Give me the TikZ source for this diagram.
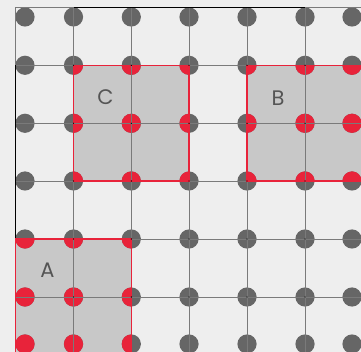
\documentclass[tikz,border=0pt]{standalone}
\usepackage{fontspec}
\setmainfont{Poppins}
\definecolor{bgc}{HTML}{EEEEEE}
\definecolor{sqfill}{HTML}{C8C8C8}
\definecolor{redc}{HTML}{E8233A}
\definecolor{dotc}{HTML}{666666}
\definecolor{gridc}{HTML}{7A7A7A}
\definecolor{labc}{HTML}{555555}
\tikzset{
  sq/.style={fill=sqfill},
  sqborder/.style={draw=redc, line width=1.4pt},
  gridline/.style={draw=gridc, line width=0.9pt},
  frameline/.style={draw=black, line width=1.1pt},
  lab/.style={text=labc, font=\fontsize{21}{24}\selectfont, inner sep=0pt},
}
\begin{document}
\begin{tikzpicture}[x=1pt,y=-1pt]
\fill[bgc] (0,0) rectangle (361,352);
\useasboundingbox (0,0) rectangle (361,352);
% square fills
\fill[sq] (73.5,65.3) rectangle (189,181);
\fill[sq] (247,65.3) rectangle (365,181);
\fill[sq] (15.7,239) rectangle (131.3,356);
% gray dots
\foreach \x in {25,73.5,131.3,189,247,305,352}
  \foreach \y in {17,65.3,123.3,181,239,297,344}
    \fill[dotc] (\x,\y) circle (9.6);
% red dots inside squares
\begin{scope}
  \clip (73.5,65.3) rectangle (189,181);
  \foreach \x in {25,73.5,131.3,189,247,305,352}
    \foreach \y in {17,65.3,123.3,181,239,297,344}
      \fill[redc] (\x,\y) circle (9.6);
\end{scope}
\begin{scope}
  \clip (247,65.3) rectangle (365,181);
  \foreach \x in {25,73.5,131.3,189,247,305,352}
    \foreach \y in {17,65.3,123.3,181,239,297,344}
      \fill[redc] (\x,\y) circle (9.6);
\end{scope}
\begin{scope}
  \clip (15.7,239) rectangle (131.3,356);
  \foreach \x in {25,73.5,131.3,189,247,305,352}
    \foreach \y in {17,65.3,123.3,181,239,297,344}
      \fill[redc] (\x,\y) circle (9.6);
\end{scope}
% grid lines
\foreach \x in {15.7,73.5,131.3,189,247,305}
  \draw[gridline] (\x,7.3) -- (\x,353);
\foreach \y in {7.3,65.3,123.3,181,239,297}
  \draw[gridline] (15.7,\y) -- (362,\y);
% black frame parts
\draw[frameline] (73.5,7.3) -- (305,7.3);
\draw[frameline] (15.7,65.3) -- (15.7,239);
% square borders
\draw[sqborder] (73.5,65.3) rectangle (189,181);
\draw[sqborder] (247,65.3) rectangle (365,181);
\draw[sqborder] (15.7,239) rectangle (131.3,356);
% tiny intersection marks
\foreach \x in {73.5,131.3,189,247,305}
  \foreach \y in {65.3,123.3,181,239,297}
    \fill[black] (\x,\y) circle (0.7);
% labels
\node[lab] (labC) at (105.5,97) {C};
\node[lab] (labB) at (278,98) {B};
\node[lab] (labA) at (47.5,270) {A};
\end{tikzpicture}
\end{document}
